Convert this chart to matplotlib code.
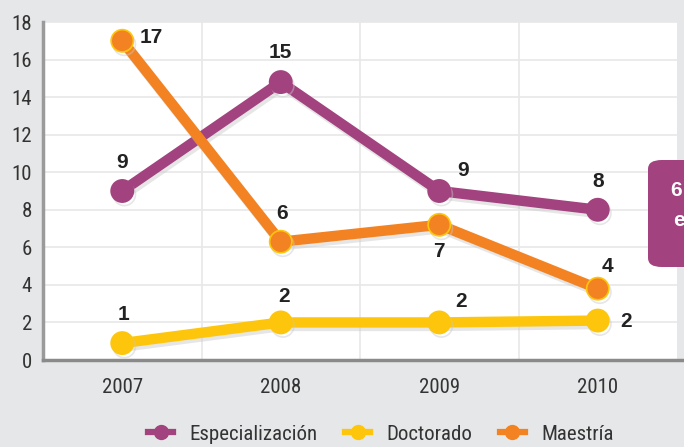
import matplotlib
matplotlib.use("Agg")
import matplotlib.pyplot as plt
import matplotlib.patheffects as pe
from matplotlib.patches import FancyBboxPatch
from matplotlib.lines import Line2D

years = ["2007", "2008", "2009", "2010"]
especializacion = [9.0, 14.8, 9.0, 8.0]
especializacion_labels = ["9", "15", "9", "8"]
doctorado = [0.9, 2.0, 2.0, 2.1]
doctorado_labels = ["1", "2", "2", "2"]
maestria = [17.0, 6.3, 7.2, 3.8]
maestria_labels = ["17", "6", "7", "4"]

COND = ["Roboto Condensed", "DejaVu Sans"]
BOLD = ["Liberation Sans", "DejaVu Sans"]
plt.rcParams['font.family'] = COND

BG = "#e6e7e8"
PURPLE = "#a2427f"
YELLOW = "#fdc60d"
ORANGE = "#f38322"

W, H = 684, 447
fig = plt.figure(figsize=(W / 100, H / 100), dpi=100, facecolor=BG)
ax = fig.add_axes([43 / W, 1 - 360 / H, (677 - 43) / W, (360 - 22) / H])
ax.set_facecolor("white")
ax.set_xlim(-0.5, 3.5)
ax.set_ylim(0, 18)
ax.set_yticks(range(0, 19, 2))
ax.set_xticks(range(4))
ax.set_xticklabels(years)
ax.set_xticks([0.5, 1.5, 2.5], minor=True)
ax.grid(True, which="major", axis="y", color="#e8e8e8", lw=1.2)
ax.grid(True, which="minor", axis="x", color="#e8e8e8", lw=1.2)
ax.set_axisbelow(True)
ax.tick_params(axis="both", which="both", length=0, labelsize=15, colors="#333333")
ax.tick_params(axis="x", pad=13)
ax.tick_params(axis="y", pad=8)
for s in ["top", "right"]:
    ax.spines[s].set_visible(False)
ax.spines["left"].set_color("#9a9a9a")
ax.spines["left"].set_linewidth(2.5)
ax.spines["bottom"].set_color("#8a8a8a")
ax.spines["bottom"].set_linewidth(2.5)
ax.spines["bottom"].set_bounds(-0.5, 3.53)

x = list(range(4))
shadow = [pe.SimpleLineShadow(offset=(1.5, -2.5), shadow_color="#c8c8c8", alpha=0.45), pe.Normal()]
series = [
    (especializacion, PURPLE, PURPLE, "Especialización"),
    (doctorado, YELLOW, YELLOW, "Doctorado"),
    (maestria, ORANGE, "#fdc60d", "Maestría"),
]
for vals, col, edge, name in series:
    ax.plot(x, vals, color=col, lw=7.5, marker="o", ms=16, mfc=col, mec=edge, mew=1.2,
            solid_capstyle="round", path_effects=shadow, clip_on=False, zorder=3)

lab_kw = dict(fontsize=15, fontweight="bold", color="#222222", family=BOLD,
              ha="center", va="center", zorder=5)
esp_off = [(0, 1.5), (0, 1.6), (0.15, 1.1), (0, 1.5)]
for i, (dx, dy) in enumerate(esp_off):
    ax.text(x[i] + dx, especializacion[i] + dy, especializacion_labels[i], **lab_kw)
doc_off = [(0.01, 1.5), (0.02, 1.4), (0.14, 1.1), (0.18, -0.05)]
for i, (dx, dy) in enumerate(doc_off):
    ax.text(x[i] + dx, doctorado[i] + dy, doctorado_labels[i], **lab_kw)
mae_off = [(0.18, 0.2), (0.01, 1.5), (0.0, -1.4), (0.06, 1.2)]
for i, (dx, dy) in enumerate(mae_off):
    ax.text(x[i] + dx, maestria[i] + dy, maestria_labels[i], **lab_kw)

# cut-off callout box on the right
box = FancyBboxPatch((648 / W, 1 - 267 / H), 60 / W, 107 / H,
                     boxstyle="round,pad=0,rounding_size=0.02", transform=fig.transFigure,
                     facecolor=PURPLE, edgecolor="none", zorder=10)
fig.patches.append(box)
fig.text(676 / W, 1 - 190 / H, "6", color="white", fontsize=15, fontweight="bold",
         family=BOLD, ha="center", va="center", zorder=11)
fig.text(679 / W, 1 - 220 / H, "e", color="white", fontsize=15, fontweight="bold",
         family=BOLD, ha="center", va="center", zorder=11)

handles = [Line2D([], [], color=c, lw=4.5, marker="o", ms=10, mec=c) for _, c, _, _ in series]
fig.legend(handles, [s[3] for s in series], loc="center", bbox_to_anchor=(0.557, 1 - 434 / H),
           ncol=3, frameon=False, fontsize=15, handlelength=1.2, columnspacing=1.3,
           handletextpad=0.8, labelcolor="#333333")

fig.savefig("out.png", dpi=100, facecolor=BG)
